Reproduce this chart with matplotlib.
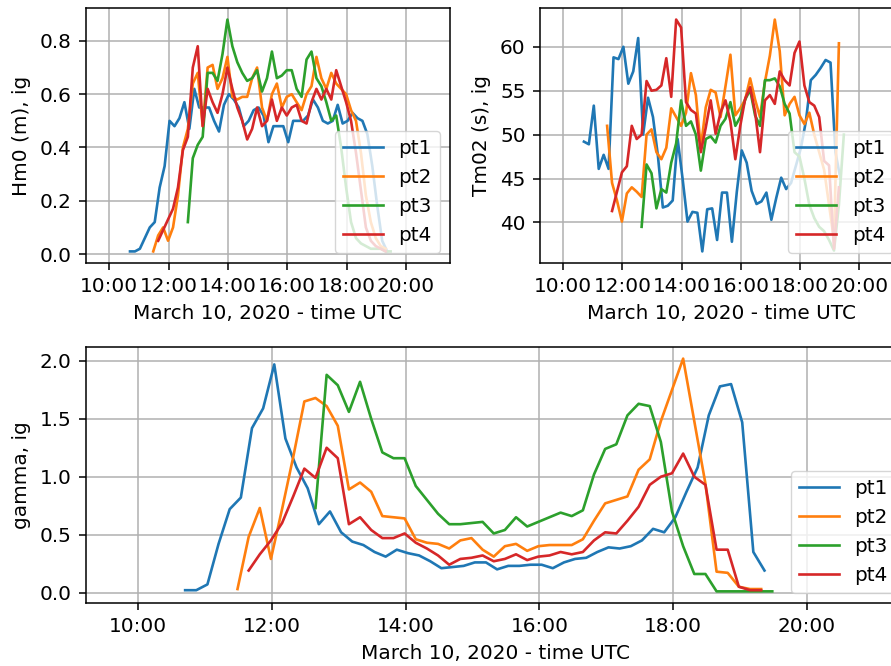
import pandas as pd
import matplotlib
matplotlib.use('Agg')
import matplotlib.pyplot as plt
import matplotlib.dates as mdates

plt.rcParams['font.family'] = ['DejaVu Sans']
plt.rcParams['font.size'] = 14.4

# start time of each sensor series (10 min sampling)
starts = {'pt1': '2020-03-10 10:42', 'pt2': '2020-03-10 11:29',
          'pt3': '2020-03-10 12:39', 'pt4': '2020-03-10 11:39'}

hm0_pt1 = [0.01, 0.01, 0.02, 0.06, 0.10, 0.12, 0.25, 0.33, 0.50, 0.48, 0.51, 0.57, 0.47, 0.62,
           0.55, 0.55, 0.55, 0.50, 0.46, 0.56, 0.60, 0.58, 0.55, 0.48, 0.50, 0.54, 0.55, 0.52,
           0.42, 0.48, 0.48, 0.48, 0.42, 0.50, 0.50, 0.50, 0.52, 0.58, 0.55, 0.50, 0.49, 0.50,
           0.56, 0.49, 0.50, 0.53, 0.51, 0.50, 0.45, 0.33, 0.18, 0.05, 0.01]
hm0_pt2 = [0.01, 0.07, 0.10, 0.05, 0.10, 0.22, 0.40, 0.47, 0.64, 0.68, 0.48, 0.70, 0.71, 0.62,
           0.66, 0.74, 0.59, 0.58, 0.59, 0.59, 0.66, 0.70, 0.55, 0.50, 0.60, 0.64, 0.55, 0.59,
           0.60, 0.57, 0.54, 0.60, 0.63, 0.74, 0.66, 0.62, 0.68, 0.64, 0.62, 0.60, 0.54, 0.50,
           0.38, 0.22, 0.12, 0.06, 0.03, 0.02]
hm0_pt3 = [0.12, 0.36, 0.41, 0.44, 0.68, 0.68, 0.65, 0.75, 0.88, 0.78, 0.72, 0.68, 0.65, 0.66,
           0.69, 0.61, 0.66, 0.76, 0.66, 0.67, 0.69, 0.69, 0.62, 0.59, 0.73, 0.76, 0.66, 0.63,
           0.57, 0.50, 0.52, 0.40, 0.25, 0.12, 0.06, 0.04, 0.03, 0.02, 0.02, 0.02, 0.01, 0.01]
hm0_pt4 = [0.05, 0.09, 0.13, 0.17, 0.25, 0.39, 0.44, 0.70, 0.78, 0.48, 0.62, 0.57, 0.53, 0.60,
           0.70, 0.62, 0.55, 0.50, 0.43, 0.47, 0.55, 0.48, 0.50, 0.58, 0.50, 0.55, 0.52, 0.55,
           0.56, 0.50, 0.49, 0.57, 0.62, 0.58, 0.62, 0.58, 0.69, 0.63, 0.57, 0.50, 0.38, 0.24,
           0.10, 0.05, 0.03, 0.02, 0.01]

tm02_pt1 = [49.2, 48.9, 53.3, 46.1, 47.7, 46.1, 58.8, 58.6, 60.0, 55.8, 57.2, 61.0, 50.0, 54.2,
            52.0, 47.6, 41.7, 41.9, 42.5, 49.5, 45.0, 40.1, 41.2, 41.1, 36.7, 41.5, 41.6, 38.0,
            43.4, 43.4, 37.8, 43.5, 48.2, 46.8, 43.6, 42.1, 42.4, 43.4, 40.3, 42.8, 45.1, 43.8,
            44.5, 46.5, 48.5, 51.5, 56.2, 56.8, 57.6, 58.5, 58.2, 48.0, 45.0]
tm02_pt2 = [51.0, 44.5, 42.5, 40.1, 43.3, 44.0, 43.5, 42.9, 50.0, 50.6, 48.0, 47.2, 48.5, 53.0,
            52.0, 51.0, 52.5, 57.0, 54.5, 48.5, 53.1, 55.1, 54.8, 52.0, 55.5, 59.1, 52.2, 53.0,
            54.0, 56.4, 54.0, 52.0, 56.0, 59.0, 63.1, 59.5, 52.2, 53.5, 54.3, 52.2, 51.2, 52.5,
            50.0, 48.0, 46.0, 42.0, 38.0, 60.4]
tm02_pt3 = [39.5, 46.6, 45.6, 41.6, 43.8, 43.4, 46.8, 49.0, 53.9, 51.0, 51.5, 50.0, 45.9, 49.5,
            49.8, 49.1, 51.0, 51.8, 53.7, 51.0, 52.0, 54.0, 55.1, 52.2, 51.0, 56.2, 56.2, 56.4,
            55.5, 53.5, 52.4, 48.0, 47.5, 45.0, 42.0, 40.5, 39.5, 39.0, 38.0, 36.8, 42.0, 50.0]
tm02_pt4 = [41.3, 43.5, 45.7, 46.4, 51.0, 49.5, 50.0, 56.1, 55.0, 55.1, 55.6, 58.7, 54.3, 63.1,
            62.2, 53.7, 52.8, 52.4, 48.0, 50.8, 53.9, 50.1, 52.5, 53.9, 51.5, 47.2, 51.0, 54.1,
            55.4, 52.6, 48.0, 53.9, 54.5, 53.5, 57.2, 56.2, 55.6, 59.3, 60.6, 55.6, 53.7, 53.3,
            52.0, 47.0, 46.5, 37.0, 44.0]

gamma_pt1 = [0.02, 0.02, 0.07, 0.42, 0.72, 0.82, 1.42, 1.59, 1.97, 1.33, 1.08, 0.90, 0.59, 0.70,
             0.52, 0.44, 0.41, 0.35, 0.31, 0.37, 0.34, 0.32, 0.27, 0.21, 0.22, 0.23, 0.26, 0.26,
             0.20, 0.23, 0.23, 0.24, 0.24, 0.21, 0.26, 0.29, 0.30, 0.35, 0.39, 0.38, 0.40, 0.45,
             0.55, 0.52, 0.65, 0.87, 1.08, 1.53, 1.78, 1.80, 1.47, 0.35, 0.19]
gamma_pt2 = [0.03, 0.48, 0.73, 0.29, 0.72, 1.17, 1.65, 1.68, 1.61, 1.44, 0.89, 0.95, 0.87, 0.66,
             0.65, 0.64, 0.46, 0.43, 0.42, 0.38, 0.45, 0.47, 0.37, 0.31, 0.40, 0.42, 0.36, 0.40,
             0.41, 0.41, 0.41, 0.46, 0.62, 0.77, 0.80, 0.83, 1.06, 1.15, 1.48, 1.75, 2.02, 1.48,
             0.94, 0.18, 0.17, 0.05, 0.03, 0.03]
gamma_pt3 = [0.73, 1.88, 1.79, 1.56, 1.82, 1.50, 1.21, 1.16, 1.16, 0.92, 0.80, 0.68, 0.59, 0.59,
             0.60, 0.61, 0.51, 0.54, 0.65, 0.57, 0.61, 0.65, 0.69, 0.66, 0.71, 1.02, 1.24, 1.28,
             1.53, 1.63, 1.61, 1.30, 0.70, 0.40, 0.16, 0.16, 0.01, 0.01, 0.01, 0.01, 0.01, 0.01]
gamma_pt4 = [0.19, 0.33, 0.45, 0.60, 0.83, 1.07, 0.99, 1.25, 1.16, 0.59, 0.65, 0.54, 0.47, 0.47,
             0.51, 0.43, 0.38, 0.32, 0.24, 0.29, 0.30, 0.32, 0.27, 0.29, 0.33, 0.28, 0.31, 0.32,
             0.35, 0.33, 0.35, 0.45, 0.52, 0.51, 0.62, 0.74, 0.93, 1.00, 1.03, 1.20, 1.00, 0.93,
             0.37, 0.37, 0.05, 0.02, 0.02]

names = ['pt1', 'pt2', 'pt3', 'pt4']
hm0 = [hm0_pt1, hm0_pt2, hm0_pt3, hm0_pt4]
tm02 = [tm02_pt1, tm02_pt2, tm02_pt3, tm02_pt4]
gamma = [gamma_pt1, gamma_pt2, gamma_pt3, gamma_pt4]

xlim = (pd.Timestamp('2020-03-10 09:13'), pd.Timestamp('2020-03-10 21:29'))
xlabel = 'March 10, 2020 - time UTC'


def times(name, n):
    return pd.date_range(starts[name], periods=n, freq='10min')


def draw(ax, series, ylabel):
    for name, vals in zip(names, series):
        ax.plot(times(name, len(vals)), vals, label=name, linewidth=1.9)
    ax.set_xlim(xlim)
    ax.xaxis.set_major_locator(mdates.HourLocator(byhour=range(0, 24, 2)))
    ax.xaxis.set_major_formatter(mdates.DateFormatter('%H:%M'))
    ax.set_xlabel(xlabel, labelpad=5.5)
    ax.set_ylabel(ylabel, labelpad=6.5)
    ax.grid(True, linewidth=1.1)
    ax.tick_params(length=4.8, width=1.1, pad=5.5)
    for s in ax.spines.values():
        s.set_linewidth(1.1)
    ax.legend(loc='lower right')


fig = plt.figure(figsize=(8.91, 6.66), dpi=100)
ax1 = fig.add_axes([0.0965, 0.6051, 0.4085, 0.3829])
ax2 = fig.add_axes([0.6061, 0.6051, 0.4074, 0.3829])
ax3 = fig.add_axes([0.0965, 0.0946, 0.9203, 0.3844])

draw(ax1, hm0, 'Hm0 (m), ig')
draw(ax2, tm02, 'Tm02 (s), ig')
draw(ax3, gamma, 'gamma, ig')

fig.savefig('out.png', dpi=100)
